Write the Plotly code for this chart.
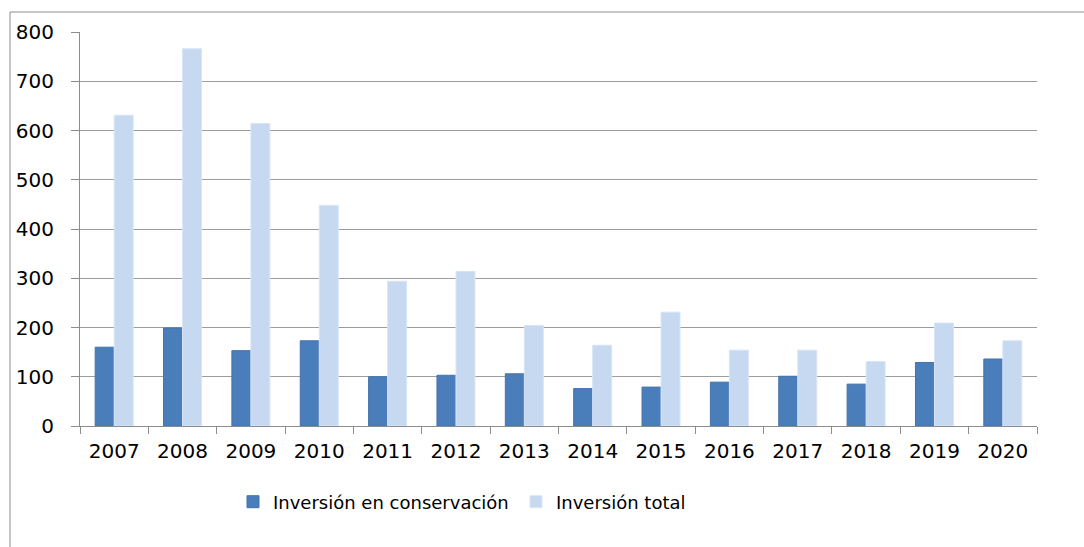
import plotly.graph_objects as go

years = ["2007", "2008", "2009", "2010", "2011", "2012", "2013",
         "2014", "2015", "2016", "2017", "2018", "2019", "2020"]
conservacion = [160, 199, 153, 173, 100, 103, 106, 76, 79, 89, 101, 85, 129, 136]
total = [631, 766, 614, 448, 294, 314, 204, 164, 231, 154, 154, 131, 209, 173]
y_ticks = [0, 100, 200, 300, 400, 500, 600, 700, 800]

W, H = 1084, 547
ML, MR, MT, MB = 80, 47, 32, 121
pw, ph = W - ML - MR, H - MT - MB

def px_x(x):
    return (x - ML) / pw

def px_y(y):
    return (H - MB - y) / ph

axis_font = dict(family="DejaVu Sans, Verdana, sans-serif", size=20, color="#000000")
legend_font = dict(family="DejaVu Sans, Verdana, sans-serif", size=18, color="#000000")

fig = go.Figure()
fig.add_trace(go.Bar(
    x=years, y=conservacion, name="Inversión en conservación",
    marker=dict(color="#4A7EBB", line=dict(color="#4372AC", width=1)),
))
fig.add_trace(go.Bar(
    x=years, y=total, name="Inversión total",
    marker=dict(color="#C6D9F1", line=dict(color="#D8E5F6", width=1)),
))

# outer chart frame (top and left edges)
frame = dict(color="#8C8C8C", width=1)
fig.add_shape(type="line", xref="paper", yref="paper",
              x0=px_x(10), x1=px_x(W + 5), y0=px_y(12), y1=px_y(12), line=frame)
fig.add_shape(type="line", xref="paper", yref="paper",
              x0=px_x(10), x1=px_x(10), y0=px_y(12), y1=px_y(H + 5), line=frame)

fig.update_layout(
    width=W, height=H,
    margin=dict(l=ML, r=MR, t=MT, b=MB),
    paper_bgcolor="white", plot_bgcolor="white",
    barmode="group", bargap=0.444, bargroupgap=0,
    font=axis_font,
    showlegend=True,
    legend=dict(orientation="h", x=px_x(233), y=px_y(502),
                xanchor="left", yanchor="middle",
                font=legend_font, traceorder="normal",
                entrywidth=238, entrywidthmode="pixels"),
)
fig.update_xaxes(
    type="category", showline=True, linecolor="#8C8C8C", linewidth=1,
    ticks="outside", tickson="boundaries", ticklen=7, tickcolor="#8C8C8C",
    showgrid=False, tickfont=axis_font, ticklabelstandoff=7,
)
fig.update_yaxes(
    range=[0, 800], tickvals=y_ticks, showline=True, linecolor="#8C8C8C",
    linewidth=1, ticks="outside", ticklen=8, tickcolor="#8C8C8C",
    showgrid=True, gridcolor="#9C9C9C", gridwidth=1, zeroline=False,
    tickfont=axis_font, ticklabelstandoff=13,
)

fig.write_html("out.html")
